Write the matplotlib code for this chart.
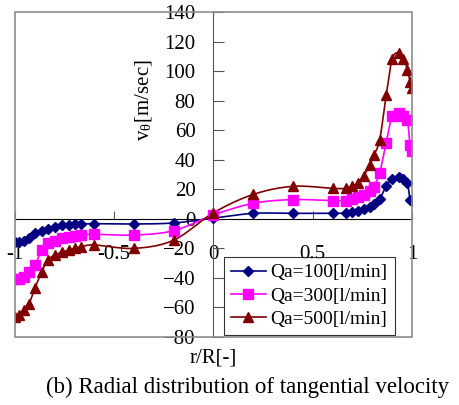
import numpy as np
import matplotlib.pyplot as plt
from matplotlib.patches import Rectangle

plt.rcParams['font.family'] = ['Liberation Serif', 'DejaVu Serif']
plt.rcParams['mathtext.fontset'] = 'stix'

# r/R positions of the measuring points
r = [-1.0, -0.98, -0.955, -0.93, -0.9, -0.865, -0.835, -0.8, -0.765, -0.73,
     -0.7, -0.665, -0.6, -0.4, -0.2, 0.0, 0.2, 0.4, 0.6, 0.665, 0.697,
     0.727, 0.757, 0.787, 0.807, 0.837, 0.87, 0.9, 0.932, 0.957, 0.977,
     0.99, 1.0]

v100 = [-16, -15.7, -14.8, -13, -9.8, -8, -6.7, -5.3, -4.4, -4, -3.5, -3.5,
        -3.3, -3.5, -2.8, 0.5, 3.7, 3.7, 3.7, 3.8, 4.4, 5.3, 6.6, 8.2, 9.8,
        13.2, 22.2, 26.7, 28.5, 27, 24, 13, 12]
v300 = [-41, -40.5, -39.2, -35.8, -31.3, -21.1, -16.6, -14.8, -13.2, -12.5,
        -11.6, -11, -10.5, -11, -8, 2.6, 10.5, 13, 12.3, 12.3, 13.2, 14.6,
        16.1, 18.8, 21.7, 31.2, 51.5, 69.6, 71.8, 69.6, 66.9, 50, 46]
v500 = [-66.7, -65.1, -61.7, -57.7, -47, -35.8, -27.9, -24.5, -22.7, -21.1,
        -20, -18.9, -17.7, -20, -14.4, 4.1, 16.5, 22, 20.6, 20.6, 22.2, 24,
        29.2, 36.4, 43, 53.4, 83.8, 108, 112.5, 108, 101, 92.8, 88.4]

labels = ['Qa=100[l/min]', 'Qa=300[l/min]', 'Qa=500[l/min]']
colors = ['#000080', '#ff00ff', '#800000']
markers = ['D', 's', '^']
msizes = [5, 6.5, 7]


def smooth(x, y, n=12):
    # catmull-rom curve through the points, only for drawing the line
    x = np.asarray(x, float)
    y = np.asarray(y, float)
    px = np.r_[x[0], x, x[-1]]
    py = np.r_[y[0], y, y[-1]]
    t = np.linspace(0, 1, n, endpoint=False)
    xs, ys = [], []
    for i in range(1, len(px) - 2):
        for p, out in ((px, xs), (py, ys)):
            p0, p1, p2, p3 = p[i - 1], p[i], p[i + 1], p[i + 2]
            out.extend(0.5 * (2 * p1 + (-p0 + p2) * t
                              + (2 * p0 - 5 * p1 + 4 * p2 - p3) * t ** 2
                              + (-p0 + 3 * p1 - 3 * p2 + p3) * t ** 3))
    xs.append(x[-1])
    ys.append(y[-1])
    return xs, ys


fig = plt.figure(figsize=(4.6, 4.05), dpi=100)
ax = fig.add_axes([15 / 460, 1 - 337 / 405, 397 / 460, 325 / 405])

for v, lab, c, m, ms in zip([v100, v300, v500], labels, colors, markers, msizes):
    sx, sy = smooth(r, v)
    ax.plot(sx, sy, color=c, lw=1.2, zorder=3)
    ax.plot(r, v, ls='none', marker=m, ms=ms, color=c, zorder=4)
    ax.plot([], [], color=c, lw=1.2, marker=m, ms=ms, label=lab)

ax.set_xlim(-1, 1)
ax.set_ylim(-80, 140)
ax.set_xticks([-1, -0.5, 0, 0.5, 1])
ax.set_xticklabels(['-1', '-0.5', '0', '0.5', '1'])
ax.set_yticks(np.arange(-80, 141, 20))

for s in ['top', 'right']:
    ax.spines[s].set_visible(False)
ax.spines['left'].set_position(('data', 0))
ax.spines['bottom'].set_position(('data', 0))
ax.spines['left'].set_color('#555555')
ax.spines['bottom'].set_color('black')
ax.tick_params(axis='y', direction='in', length=8, pad=13, labelsize=15,
               color='#555555')
ax.tick_params(axis='x', direction='in', length=6, pad=19, labelsize=15,
               color='#555555')
ax.add_patch(Rectangle((0, 0), 1, 1, transform=ax.transAxes, fill=False,
                       edgecolor='#8c8c8c', lw=1.2, zorder=5, clip_on=False))

ax.text(-0.355, 80, r'v$_\mathregular{θ}$[m/sec]', rotation=90, ha='center',
        va='center', fontsize=15)

leg = ax.legend(loc='lower left', bbox_to_anchor=(207 / 397, 0.0),
                fontsize=14, frameon=True, fancybox=False, handlelength=1.8,
                borderpad=0.35, labelspacing=0.3, handletextpad=0.25,
                borderaxespad=0.1)
leg.get_frame().set_edgecolor('black')
leg.get_frame().set_linewidth(0.8)

fig.text(213 / 460, 1 - 358 / 405, 'r/R[-]', ha='center', va='center',
         fontsize=15)
fig.text(248 / 460, 1 - 387 / 405,
         '(b) Radial distribution of tangential velocity', ha='center',
         va='center', fontsize=16.5)

fig.savefig('out.png', dpi=100)
